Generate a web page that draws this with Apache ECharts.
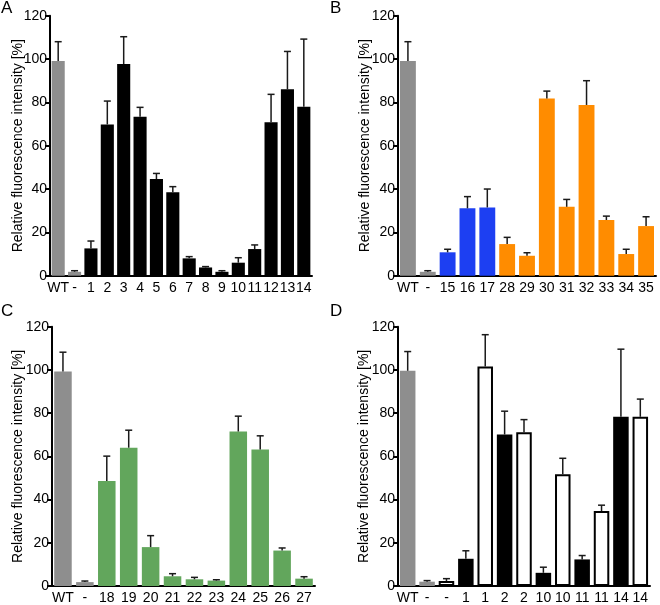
<!DOCTYPE html>
<html><head><meta charset="utf-8">
<script src="https://cdn.jsdelivr.net/npm/echarts@6/dist/echarts.min.js"></script>
<style>html,body{margin:0;padding:0;background:#fff}#c{width:660px;height:605px}</style>
</head><body><div id="c"></div>
<script>
// Panel A
const aLabels = ['WT','-','1','2','3','4','5','6','7','8','9','10','11','12','13','14'];
const aValues = [99.1,1.8,12.6,69.8,97.7,73.4,44.6,38.5,8.0,3.8,1.8,6.0,12.3,70.8,86.0,78.0];
const aErrTop = [108.0,2.3,16.0,80.6,110.3,77.7,47.2,41.1,8.8,4.2,2.3,8.3,14.2,83.7,103.5,109.2];
const aKinds  = ['ctrl','ctrl','black','black','black','black','black','black','black','black','black','black','black','black','black','black'];
// Panel B
const bLabels = ['WT','-','15','16','17','28','29','30','31','32','33','34','35'];
const bValues = [99.1,1.8,10.8,31.1,31.5,14.6,9.2,81.8,31.8,78.8,25.7,10.0,22.9];
const bErrTop = [108.0,2.3,12.2,36.5,40.0,17.7,10.6,85.2,35.2,90.0,27.5,12.2,27.2];
const bKinds  = ['ctrl','ctrl','blue','blue','blue','orange','orange','orange','orange','orange','orange','orange','orange'];
// Panel C
const cLabels = ['WT','-','18','19','20','21','22','23','24','25','26','27'];
const cValues = [99.3,1.8,48.6,64.0,18.0,4.5,3.1,2.5,71.5,63.2,16.4,3.4];
const cErrTop = [108.2,2.3,60.1,72.1,23.3,5.7,4.0,2.9,78.6,69.5,17.6,4.3];
const cKinds  = ['ctrl','ctrl','green','green','green','green','green','green','green','green','green','green'];
// Panel D
const dLabels = ['WT','-','-','1','1','2','2','10','10','11','11','14','14'];
const dValues = [99.6,2.0,2.3,12.6,101.6,70.1,71.2,6.1,51.7,12.3,34.7,78.3,78.3];
const dErrTop = [108.5,2.5,3.4,16.3,116.3,80.9,77.0,8.7,59.1,14.1,37.4,109.6,86.5];
const dKinds  = ['ctrl','ctrl','open','black','open','black','open','black','open','black','open','black','open'];
const yTicks = [0,20,40,60,80,100,120];

const kindStyle = {
  ctrl:   {color:'#8e8e8e'},
  black:  {color:'#000000'},
  blue:   {color:'#1d3ff2'},
  orange: {color:'#ff8c00'},
  green:  {color:'#62a65c'},
  open:   {color:'#ffffff', borderColor:'#000000', borderWidth:2}
};

const panels = [
  {letter:'A', L:aLabels, V:aValues, E:aErrTop, K:aKinds, grid:{left:50, top:15.7, width:262, height:260}, lx:1, ly:0, gap:25},
  {letter:'B', L:bLabels, V:bValues, E:bErrTop, K:bKinds, grid:{left:398, top:15.7, width:258, height:260}, lx:330, ly:0, gap:26},
  {letter:'C', L:cLabels, V:cValues, E:cErrTop, K:cKinds, grid:{left:52, top:326.7, width:263, height:260.6}, lx:1, ly:303, gap:27},
  {letter:'D', L:dLabels, V:dValues, E:dErrTop, K:dKinds, grid:{left:398, top:326.7, width:252, height:260.6}, lx:330, ly:303, gap:27}
];

const FONT = 'Liberation Sans, Arial, Helvetica, sans-serif';
const grids=[], xAxes=[], yAxes=[], series=[], graphics=[];
panels.forEach((p,i)=>{
  grids.push(Object.assign({containLabel:false}, p.grid));
  xAxes.push({type:'category', gridIndex:i, data:p.L, boundaryGap:true,
    axisLine:{lineStyle:{color:'#000', width:2}}, axisTick:{show:false},
    axisLabel:{interval:0, color:'#000', fontSize:14, fontFamily:FONT, margin:5}});
  yAxes.push({type:'value', gridIndex:i, min:yTicks[0], max:yTicks[yTicks.length-1], interval:20,
    name:'Relative fluorescence intensity [%]', nameLocation:'middle', nameGap:p.gap, nameMoveOverlap:false,
    nameTextStyle:{color:'#000', fontSize:14, fontFamily:FONT},
    axisLine:{show:true, lineStyle:{color:'#000', width:2}},
    axisTick:{show:true, length:5, lineStyle:{color:'#000', width:2}},
    axisLabel:{color:'#000', fontSize:14, fontFamily:FONT, margin:3},
    splitLine:{show:false}});
  series.push({type:'bar', xAxisIndex:i, yAxisIndex:i, barCategoryGap:'20%',
    data:p.V.map((v,j)=>({value:v, itemStyle:Object.assign({}, kindStyle[p.K[j]])})),
    z:2, silent:true});
  series.push({type:'custom', xAxisIndex:i, yAxisIndex:i, z:3, silent:true,
    data:p.V.map((v,j)=>[j, v, p.E[j]]),
    renderItem:function(params, api){
      const base = api.coord([api.value(0), api.value(1)]);
      const top = api.coord([api.value(0), api.value(2)]);
      const x = base[0], cap = 3.5;
      return {type:'group', children:[
        {type:'line', shape:{x1:x, y1:base[1], x2:x, y2:top[1]}, style:{stroke:'#1a1a1a', lineWidth:1.5}},
        {type:'line', shape:{x1:x-cap, y1:top[1], x2:x+cap, y2:top[1]}, style:{stroke:'#1a1a1a', lineWidth:1.5}}
      ]};
    }});
  graphics.push({type:'text', left:p.lx, top:p.ly, style:{text:p.letter, fill:'#000', font:'17px '+FONT}});
});

const chart = echarts.init(document.getElementById('c'), null, {renderer:'canvas'});
chart.setOption({animation:false, backgroundColor:'#fff', grid:grids, xAxis:xAxes, yAxis:yAxes, series:series, graphic:graphics});
</script></body></html>
